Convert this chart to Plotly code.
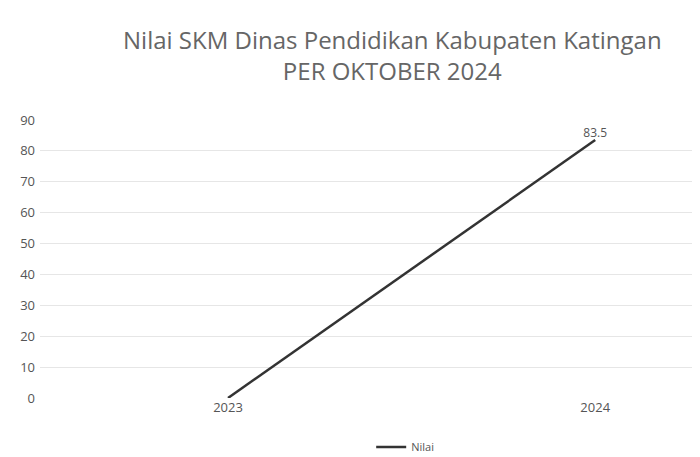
import plotly.graph_objects as go

years = [2023, 2024]
values = [0, 83.5]
labels = ["", "83.5"]
y_ticks = [0, 10, 20, 30, 40, 50, 60, 70, 80, 90]

fig = go.Figure()
fig.add_trace(go.Scatter(
    x=years, y=values, mode="lines+text", name="Nilai",
    text=labels, textposition="top center",
    textfont=dict(size=12, color="#555"),
    line=dict(color="#333333", width=2.5),
))
fig.update_layout(
    width=700, height=457,
    paper_bgcolor="white", plot_bgcolor="white",
    title=dict(text="Nilai SKM Dinas Pendidikan Kabupaten Katingan<br>PER OKTOBER 2024",
               x=0.549, xanchor="center", y=0.911, yanchor="top",
               font=dict(family="Open Sans", size=24, color="#666")),
    margin=dict(l=32, r=10, t=112, b=67, autoexpand=False),
    showlegend=True,
    legend=dict(orientation="h", x=0.555, xanchor="center", y=-0.176, yanchor="middle",
                font=dict(size=11, color="#555")),
    xaxis=dict(range=[2022.488, 2024.28], tickvals=years, ticktext=[str(y) for y in years],
               showgrid=False, zeroline=False, showline=False, automargin=False,
               tickfont=dict(size=13, color="#555")),
    yaxis=dict(range=[0, 90], tickvals=y_ticks, showgrid=True, gridcolor="#e6e6e6",
               zeroline=False, automargin=False, ticklabelstandoff=4,
               tickfont=dict(size=13, color="#555")),
)
fig.write_html("out.html")
